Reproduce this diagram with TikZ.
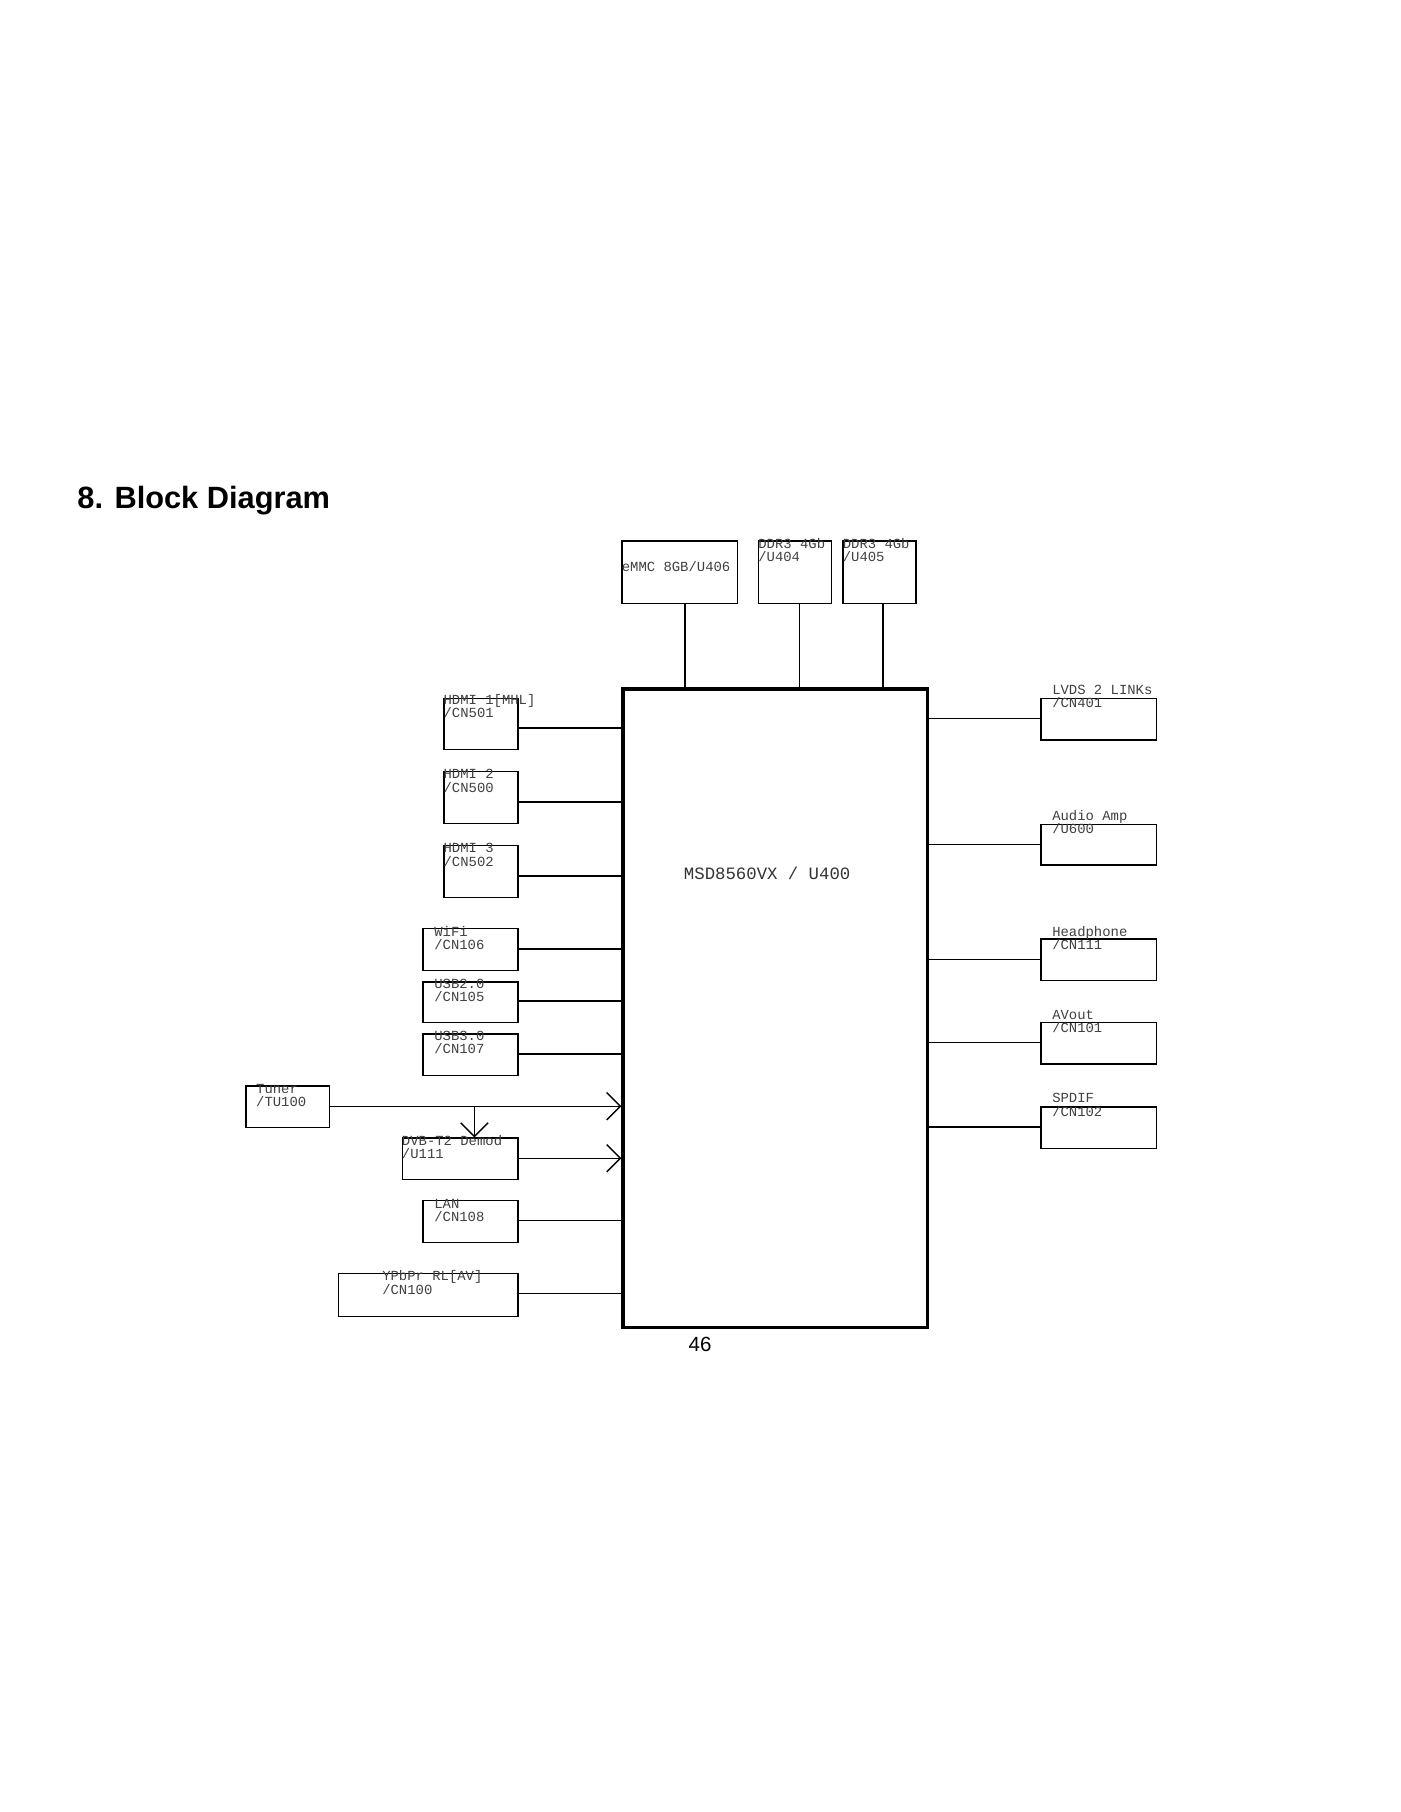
\documentclass[tikz,border=0pt]{standalone}
\usepackage{fontspec}
\setmainfont{Liberation Sans}
\newfontfamily\boxfont{Liberation Mono}
\usetikzlibrary{arrows.meta}

\tikzset{
  blk/.style={draw, line width=0.6pt, inner sep=0pt},
  lbl/.style={anchor=base west, align=left, inner sep=0pt, font=\boxfont\fontsize{6.1}{5.8}\selectfont, text=black!75},
  wire/.style={line width=0.6pt},
  feed/.style={line width=0.6pt, -{Straight Barb[length=6pt, width=12pt, line width=0.6pt]}}
}
% box: name, x1, y1, x2, y2, text x, first baseline, text
\newcommand{\blkbox}[8]{%
  \node[blk, minimum width=(#4-#2)*0.01784cm, minimum height=(#5-#3)*0.01784cm, anchor=north west] (#1) at (#2,#3) {};
  \node[lbl] (#1-t) at (#6,#7) {#8};
}

\begin{document}
\begin{tikzpicture}[x=0.01784cm, y=-0.01784cm]
        \useasboundingbox (0,0) rectangle (1210,1566);

        % Title
        \node[anchor=west, font=\bfseries\fontsize{13.5}{16}\selectfont] (title) at (60,433) {8. Block Diagram};

        % SoC
        \node[draw, line width=1.5pt, minimum width=263*0.01784cm, minimum height=552*0.01784cm, anchor=north west] (soc) at (537,594) {};
        \node[font=\boxfont\fontsize{7.6}{9}\selectfont, text=black!80] (soc-t) at (663,755) {MSD8560VX / U400};

        % Memory
        \blkbox{emmc}{537}{467}{637}{521}{537}{493.5}{eMMC 8GB/U406}
        \blkbox{ddrA}{655}{467}{718}{521}{655}{485.5}{DDR3 4Gb\\/U404}
        \blkbox{ddrB}{728}{467}{791}{521}{728}{485.5}{DDR3 4Gb\\/U405}
        \draw[wire] (emmc.south -| 592,0) -- (soc.north -| 592,0);
        \draw[wire] (ddrA.south -| 691,0) -- (soc.north -| 691,0);
        \draw[wire] (ddrB.south -| 763,0) -- (soc.north -| 763,0);

        % Inputs
        \blkbox{hdmiA}{383}{603}{447}{647}{383}{620.5}{HDMI 1[MHL]\\/CN501}
        \blkbox{hdmiB}{383}{666}{447}{711}{383}{684.5}{HDMI 2\\/CN500}
        \blkbox{hdmiC}{383}{730}{447}{775}{383}{748.5}{HDMI 3\\/CN502}
        \blkbox{wifi}{365}{802}{447}{838}{375}{820.5}{WiFi\\/CN106}
        \blkbox{usbA}{365}{848}{447}{883}{375}{865.5}{USB2.0\\/CN105}
        \blkbox{usbB}{365}{893}{447}{929}{375}{910.5}{USB3.0\\/CN107}
        \blkbox{tuner}{212}{938}{284}{974}{221}{956.5}{Tuner\\/TU100}
        \blkbox{demod}{347}{983}{447}{1019}{347}{1001.5}{DVB-T2 Demod\\/U111}
        \blkbox{lan}{365}{1037}{447}{1073}{375}{1055.5}{LAN\\/CN108}
        \blkbox{ypbpr}{292}{1100}{447}{1137}{330}{1118.5}{YPbPr RL[AV]\\/CN100}

        \draw[wire] (447,629) -- (soc.west |- 0,629);
        \draw[wire] (447,693) -- (soc.west |- 0,693);
        \draw[wire] (447,757) -- (soc.west |- 0,757);
        \draw[wire] (447,820) -- (soc.west |- 0,820);
        \draw[line width=1.1pt] (447,865) -- (soc.west |- 0,865);
        \draw[wire] (447,911) -- (soc.west |- 0,911);
        \draw[feed] (284,956) -- (soc.west |- 0,956);
        \coordinate (split) at (410,956);
        \draw[feed] (split) -- (demod.north -| split);
        \draw[feed] (447,1001) -- (soc.west |- 0,1001);
        \draw[wire] (447,1055) -- (soc.west |- 0,1055);
        \draw[wire] (447,1118) -- (soc.west |- 0,1118);

        % Outputs
        \blkbox{lvds}{899}{603}{999}{639}{909}{611.5}{LVDS 2 LINKs\\/CN401}
        \blkbox{amp}{899}{712}{999}{747}{909}{720.5}{Audio Amp\\/U600}
        \blkbox{hp}{899}{811}{999}{847}{909}{820.5}{Headphone\\/CN111}
        \blkbox{avout}{899}{883}{999}{919}{909}{892.5}{AVout\\/CN101}
        \blkbox{spdif}{899}{956}{999}{992}{909}{964.5}{SPDIF\\/CN102}
        \draw[wire] (soc.east |- 0,621) -- (lvds.west |- 0,621);
        \draw[wire] (soc.east |- 0,730) -- (amp.west |- 0,730);
        \draw[wire] (soc.east |- 0,829) -- (hp.west |- 0,829);
        \draw[wire] (soc.east |- 0,901) -- (avout.west |- 0,901);
        \draw[wire] (soc.east |- 0,974) -- (spdif.west |- 0,974);

        % Page number
        \node[font=\fontsize{9}{11}\selectfont] (page) at (605,1162) {46};
\end{tikzpicture}
\end{document}
